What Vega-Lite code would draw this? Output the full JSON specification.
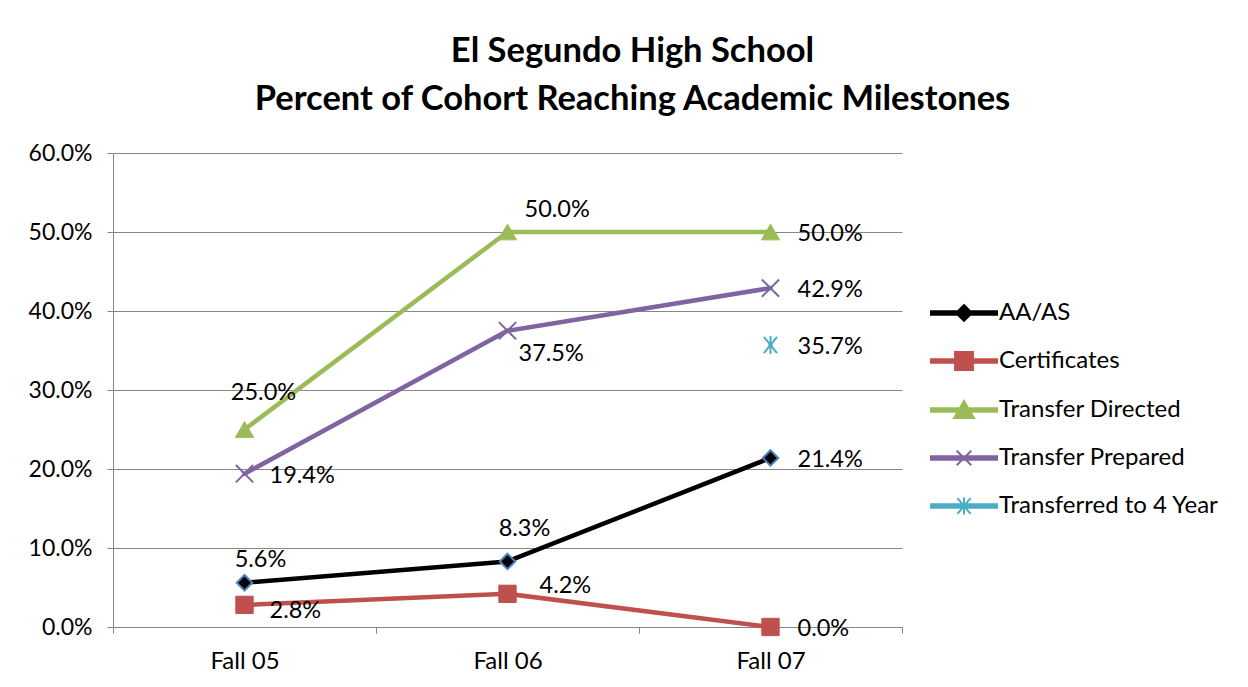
{
  "$schema": "https://vega.github.io/schema/vega-lite/v6.json",
  "width": 789,
  "height": 474,
  "autosize": {"type": "none"},
  "padding": {"left": 113, "top": 153, "right": 346, "bottom": 60},
  "background": "white",
  "config": {
    "view": {"stroke": null},
    "font": "Lato"
  },
  "title": {
    "text": ["El Segundo High School", "Percent of Cohort Reaching Academic Milestones"],
    "font": "Lato",
    "fontSize": 34.5,
    "fontWeight": "bold",
    "lineHeight": 48,
    "anchor": "middle",
    "dx": 125,
    "offset": 25,
    "color": "black"
  },
  "data": {
    "values": [
      {"period": "Fall 05", "series": "AA/AS", "value": 0.056},
      {"period": "Fall 06", "series": "AA/AS", "value": 0.083},
      {"period": "Fall 07", "series": "AA/AS", "value": 0.214},
      {"period": "Fall 05", "series": "Certificates", "value": 0.028},
      {"period": "Fall 06", "series": "Certificates", "value": 0.042},
      {"period": "Fall 07", "series": "Certificates", "value": 0.0},
      {"period": "Fall 05", "series": "Transfer Directed", "value": 0.25},
      {"period": "Fall 06", "series": "Transfer Directed", "value": 0.5},
      {"period": "Fall 07", "series": "Transfer Directed", "value": 0.5},
      {"period": "Fall 05", "series": "Transfer Prepared", "value": 0.194},
      {"period": "Fall 06", "series": "Transfer Prepared", "value": 0.375},
      {"period": "Fall 07", "series": "Transfer Prepared", "value": 0.429},
      {"period": "Fall 07", "series": "Transferred to 4 Year", "value": 0.357}
    ]
  },
  "encoding": {
    "x": {
      "field": "period",
      "type": "nominal",
      "sort": ["Fall 05", "Fall 06", "Fall 07"],
      "scale": {"type": "band", "paddingInner": 0, "paddingOuter": 0},
      "axis": {
        "title": null,
        "labelAngle": 0,
        "labelFont": "Lato",
        "labelFontSize": 24,
        "labelColor": "black",
        "labelPadding": 16,
        "tickBand": "extent",
        "tickSize": 6,
        "tickColor": "#868686",
        "domainColor": "#868686",
        "grid": false
      }
    },
    "y": {
      "field": "value",
      "type": "quantitative",
      "scale": {"domain": [0, 0.6], "nice": false, "zero": true},
      "axis": {
        "title": null,
        "values": [0, 0.1, 0.2, 0.3, 0.4, 0.5, 0.6],
        "format": ".1%",
        "labelFont": "Lato",
        "labelFontSize": 23,
        "labelColor": "black",
        "labelPadding": 15,
        "tickSize": 6,
        "tickColor": "#868686",
        "domainColor": "#868686",
        "gridColor": "#868686",
        "gridWidth": 1
      }
    }
  },
  "layer": [
    {
      "mark": {"type": "line", "strokeWidth": 4.5, "strokeJoin": "round", "strokeCap": "round"},
      "encoding": {
        "color": {
          "field": "series",
          "type": "nominal",
          "scale": {
            "domain": ["AA/AS", "Certificates", "Transfer Directed", "Transfer Prepared", "Transferred to 4 Year"],
            "range": ["#000000", "#C0504D", "#9BBB59", "#8064A2", "#4BACC6"]
          },
          "legend": {
            "title": null,
            "orient": "none",
            "legendX": 817,
            "legendY": 126,
            "labelFont": "Lato",
            "labelFontSize": 24,
            "labelColor": "black",
            "labelOffset": 1,
            "labelLimit": 400,
            "symbolSize": 4356,
            "rowPadding": 2,
            "encode": {
              "symbols": {
                "update": {
                  "shape": {"signal": "datum.value === 'AA/AS' ? 'M-1,-0.05L1,-0.05L1,0.05L-1,0.05Z M0,-0.24L0.24,0L0,0.24L-0.24,0Z' : datum.value === 'Certificates' ? 'M-1,-0.05L1,-0.05L1,0.05L-1,0.05Z M-0.27,-0.27L0.27,-0.27L0.27,0.27L-0.27,0.27Z' : datum.value === 'Transfer Directed' ? 'M-1,-0.05L1,-0.05L1,0.05L-1,0.05Z M0,-0.27L0.3,0.24L-0.3,0.24Z' : datum.value === 'Transfer Prepared' ? 'M-1,-0.05L1,-0.05L1,0.05L-1,0.05Z M-0.22,-0.22L0.22,0.22M-0.22,0.22L0.22,-0.22' : 'M-1,-0.05L1,-0.05L1,0.05L-1,0.05Z M-0.2,-0.24L0.2,0.24M-0.2,0.24L0.2,-0.24M0,-0.26L0,0.26'"},
                  "fill": {"signal": "scale('color', datum.value)"},
                  "stroke": {"signal": "scale('color', datum.value)"},
                  "strokeWidth": {"value": 2},
                  "size": {"value": 4356},
                  "opacity": {"value": 1}
                }
              }
            }
          }
        }
      }
    },
    {
      "transform": [{"filter": "datum.series === 'AA/AS'"}],
      "mark": {"type": "point", "shape": "diamond", "filled": true, "fill": "#000000", "stroke": "#4F81BD", "strokeWidth": 2, "size": 240, "opacity": 1}
    },
    {
      "transform": [{"filter": "datum.series === 'Certificates'"}],
      "mark": {"type": "point", "shape": "square", "filled": true, "fill": "#C0504D", "stroke": "#C0504D", "strokeWidth": 1, "size": 300, "opacity": 1}
    },
    {
      "transform": [{"filter": "datum.series === 'Transfer Directed'"}],
      "mark": {"type": "point", "shape": "triangle-up", "filled": true, "fill": "#9BBB59", "stroke": "#9BBB59", "strokeWidth": 1, "size": 330, "opacity": 1}
    },
    {
      "transform": [{"filter": "datum.series === 'Transfer Prepared'"}],
      "mark": {"type": "point", "shape": "M-1,-1L1,1M-1,1L1,-1", "filled": false, "stroke": "#8064A2", "strokeWidth": 2, "size": 300, "opacity": 1}
    },
    {
      "transform": [{"filter": "datum.series === 'Transferred to 4 Year'"}],
      "mark": {"type": "point", "shape": "M-0.8,-1L0.8,1M-0.8,1L0.8,-1M0,-1.1L0,1.1", "filled": false, "stroke": "#4BACC6", "strokeWidth": 2, "size": 270, "opacity": 1}
    },
    {
      "transform": [{"filter": "datum.period === 'Fall 07'"}],
      "mark": {"type": "text", "align": "left", "baseline": "middle", "dx": 27, "dy": 2, "font": "Lato", "fontSize": 23.5, "color": "black"},
      "encoding": {"text": {"field": "value", "type": "quantitative", "format": ".1%"}}
    },
    {
      "transform": [{"filter": "datum.period === 'Fall 05' && datum.series === 'AA/AS'"}],
      "mark": {"type": "text", "align": "center", "baseline": "middle", "dx": 16, "dy": -23, "font": "Lato", "fontSize": 23.5, "color": "black"},
      "encoding": {"text": {"field": "value", "type": "quantitative", "format": ".1%"}}
    },
    {
      "transform": [{"filter": "datum.period === 'Fall 05' && datum.series === 'Certificates'"}],
      "mark": {"type": "text", "align": "left", "baseline": "middle", "dx": 25, "dy": 6, "font": "Lato", "fontSize": 23.5, "color": "black"},
      "encoding": {"text": {"field": "value", "type": "quantitative", "format": ".1%"}}
    },
    {
      "transform": [{"filter": "datum.period === 'Fall 05' && datum.series === 'Transfer Directed'"}],
      "mark": {"type": "text", "align": "center", "baseline": "middle", "dx": 19, "dy": -37, "font": "Lato", "fontSize": 23.5, "color": "black"},
      "encoding": {"text": {"field": "value", "type": "quantitative", "format": ".1%"}}
    },
    {
      "transform": [{"filter": "datum.period === 'Fall 05' && datum.series === 'Transfer Prepared'"}],
      "mark": {"type": "text", "align": "left", "baseline": "middle", "dx": 25, "dy": 2, "font": "Lato", "fontSize": 23.5, "color": "black"},
      "encoding": {"text": {"field": "value", "type": "quantitative", "format": ".1%"}}
    },
    {
      "transform": [{"filter": "datum.period === 'Fall 06' && datum.series === 'AA/AS'"}],
      "mark": {"type": "text", "align": "center", "baseline": "middle", "dx": 17, "dy": -32, "font": "Lato", "fontSize": 23.5, "color": "black"},
      "encoding": {"text": {"field": "value", "type": "quantitative", "format": ".1%"}}
    },
    {
      "transform": [{"filter": "datum.period === 'Fall 06' && datum.series === 'Certificates'"}],
      "mark": {"type": "text", "align": "left", "baseline": "middle", "dx": 32, "dy": -8, "font": "Lato", "fontSize": 23.5, "color": "black"},
      "encoding": {"text": {"field": "value", "type": "quantitative", "format": ".1%"}}
    },
    {
      "transform": [{"filter": "datum.period === 'Fall 06' && datum.series === 'Transfer Directed'"}],
      "mark": {"type": "text", "align": "left", "baseline": "middle", "dx": 17, "dy": -22, "font": "Lato", "fontSize": 23.5, "color": "black"},
      "encoding": {"text": {"field": "value", "type": "quantitative", "format": ".1%"}}
    },
    {
      "transform": [{"filter": "datum.period === 'Fall 06' && datum.series === 'Transfer Prepared'"}],
      "mark": {"type": "text", "align": "left", "baseline": "middle", "dx": 11, "dy": 23, "font": "Lato", "fontSize": 23.5, "color": "black"},
      "encoding": {"text": {"field": "value", "type": "quantitative", "format": ".1%"}}
    }
  ]
}
